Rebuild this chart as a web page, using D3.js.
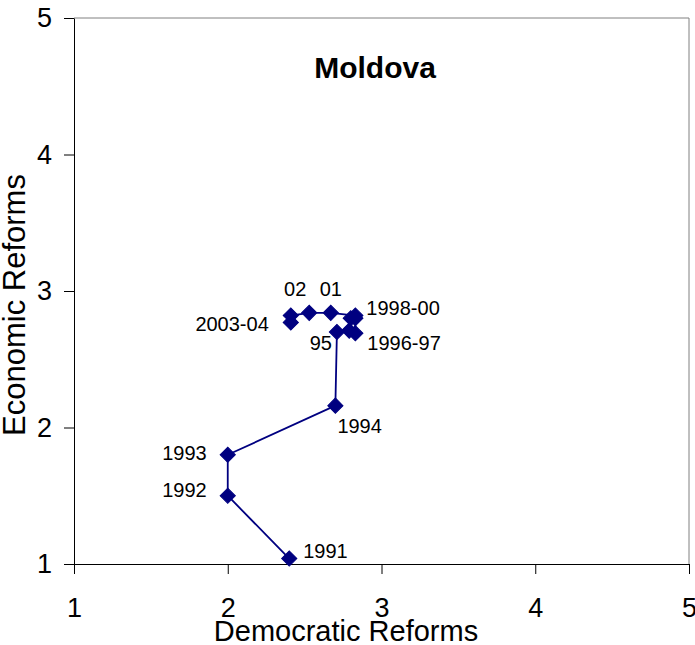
<!DOCTYPE html>
<html>
<head>
<meta charset="utf-8">
<script src="https://cdn.jsdelivr.net/npm/d3@7"></script>
<style>
  body { margin: 0; background: #fff; }
  text { font-family: "Liberation Sans", Arial, sans-serif; fill: #000; }
</style>
</head>
<body>
<div id="chart"></div>
<script>
// Moldova reform path, 1991-2004
const years = ["1991", "1992", "1993", "1994", "1995", "1996", "1997", "1998", "1999", "2000", "2001", "2002", "2003", "2004"];
const democratic = [2.40, 2.00, 2.00, 2.70, 2.71, 2.79, 2.83, 2.83, 2.80, 2.83, 2.67, 2.53, 2.41, 2.41];
const economic = [1.04, 1.50, 1.80, 2.16, 2.70, 2.71, 2.69, 2.80, 2.80, 2.82, 2.84, 2.84, 2.82, 2.77];
const labelText = ["1991", "1992", "1993", "1994", "95", "1996-97", "1998-00", "01", "02", "2003-04"];
const labelYear = ["1991", "1992", "1993", "1994", "1995", "1997", "2000", "2001", "2002", "2003"];
const ticks = [1, 2, 3, 4, 5];

const width = 695, height = 645;
const margin = { top: 18, right: 6, bottom: 81, left: 74 };
const navy = "#000080";

const svg = d3.select("#chart").append("svg")
  .attr("width", width).attr("height", height);

const x = d3.scaleLinear().domain([1, 5]).range([margin.left, width - margin.right]);
const y = d3.scaleLinear().domain([1, 5]).range([height - margin.bottom, margin.top]);

const points = years.map((yr, i) => ({ year: yr, d: democratic[i], e: economic[i] }));

// plot frame (top and right)
svg.append("path")
  .attr("d", `M${x(1)},${y(5)}H${x(5)}V${y(1)}`)
  .attr("fill", "none").attr("stroke", "#808080").attr("stroke-width", 1);

const xAxis = svg.append("g")
  .attr("transform", `translate(0,${y(1)})`)
  .call(d3.axisBottom(x).tickValues(ticks).tickFormat(d3.format("d")).tickSize(10).tickPadding(24).tickSizeOuter(0));
const yAxis = svg.append("g")
  .attr("transform", `translate(${x(1)},0)`)
  .call(d3.axisLeft(y).tickValues(ticks).tickFormat(d3.format("d")).tickSize(10).tickPadding(12).tickSizeOuter(0));

[xAxis, yAxis].forEach(g => {
  g.select(".domain").attr("stroke", "#000");
  g.selectAll(".tick line").attr("stroke", "#000");
  g.selectAll(".tick text")
    .style("font-family", '"Liberation Sans", Arial, sans-serif')
    .style("font-size", "27px").attr("fill", "#000");
});

// axis titles
svg.append("text")
  .attr("x", 346).attr("y", 641)
  .attr("text-anchor", "middle")
  .style("font-size", "29px")
  .text("Democratic Reforms");

svg.append("text")
  .attr("transform", "translate(25,305) rotate(-90)")
  .attr("text-anchor", "middle")
  .style("font-size", "31px")
  .text("Economic Reforms");

// title
svg.append("text")
  .attr("x", 375).attr("y", 78)
  .attr("text-anchor", "middle")
  .style("font-size", "30px").style("font-weight", "bold")
  .text("Moldova");

// path line
const line = d3.line().x(p => x(p.d)).y(p => y(p.e));
svg.append("path")
  .datum(points)
  .attr("d", line)
  .attr("fill", "none")
  .attr("stroke", navy)
  .attr("stroke-width", 1.8);

// diamond markers
const diamond = d3.symbol().type(d3.symbolSquare).size(115);
svg.selectAll(".marker")
  .data(points)
  .join("path")
  .attr("class", "marker")
  .attr("d", diamond)
  .attr("transform", p => `translate(${x(p.d)},${y(p.e)}) rotate(45)`)
  .attr("fill", navy)
  .attr("stroke", navy)
  .attr("stroke-width", 1);

// data labels
const offsets = {
  "1991": [14, -1, "start"],
  "1992": [-21, 1, "end"],
  "1993": [-21, 5, "end"],
  "1994": [2, 27, "start"],
  "95": [-5, 18, "end"],
  "1996-97": [12, 17, "start"],
  "1998-00": [11, -1, "start"],
  "01": [0, -17, "middle"],
  "02": [-14, -17, "middle"],
  "2003-04": [-22, 15, "end"]
};

svg.selectAll(".lbl")
  .data(labelText.map((t, i) => ({ t, p: points[years.indexOf(labelYear[i])] })))
  .join("text")
  .attr("class", "lbl")
  .attr("x", l => x(l.p.d) + offsets[l.t][0])
  .attr("y", l => y(l.p.e) + offsets[l.t][1])
  .attr("text-anchor", l => offsets[l.t][2])
  .style("font-size", "20px")
  .text(l => l.t);
</script>
</body>
</html>
